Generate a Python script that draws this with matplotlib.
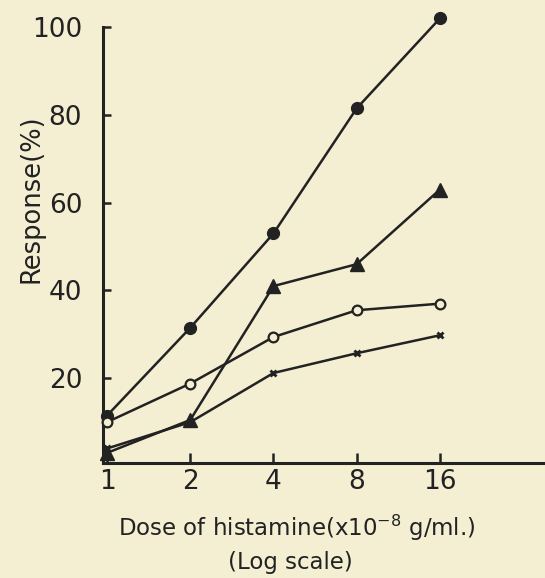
import matplotlib.pyplot as plt

# doses (x10^-8 g/ml), log2 axis
doses = [1, 2, 4, 8, 16]
filled_circles = [11.5, 31.5, 53.0, 81.5, 102.0]
filled_triangles = [3.0, 10.5, 41.0, 46.0, 63.0]
open_circles = [10.0, 18.8, 29.4, 35.5, 37.0]
crosses = [4.0, 10.0, 21.2, 25.7, 29.8]

ticks_x = [1, 2, 4, 8, 16]
ticks_y = [20, 40, 60, 80, 100]

bg = "#f4efd3"
ink = "#222222"

fig = plt.figure(figsize=(5.45, 5.78), dpi=100, facecolor=bg)
ax = fig.add_axes([0.189, 0.199, 0.811, 0.754], facecolor=bg)
ax.set_xscale("log", base=2)
ax.set_xlim(0.967, 38.4)
ax.set_ylim(0.7, 100)

line_kw = dict(color=ink, lw=1.8, clip_on=False, zorder=3)
ax.plot(doses, filled_circles, marker="o", ms=8.5, mfc=ink, mec=ink, **line_kw)
ax.plot(doses, filled_triangles, marker="^", ms=10, mfc=ink, mec=ink, **line_kw)
ax.plot(doses, open_circles, marker="o", ms=7, mfc=bg, mec=ink, mew=1.6, **line_kw)
ax.plot(doses, crosses, marker="x", ms=5, mec=ink, mew=2, **line_kw)

for s in ["top", "right"]:
    ax.spines[s].set_visible(False)
for s in ["left", "bottom"]:
    ax.spines[s].set_linewidth(2.2)
    ax.spines[s].set_color(ink)

ax.set_xticks(ticks_x)
ax.set_xticklabels([str(t) for t in ticks_x])
ax.minorticks_off()
ax.set_yticks(ticks_y)
ax.tick_params(axis="x", direction="in", length=7, width=1.8, color=ink,
               labelsize=19, labelcolor=ink, pad=4)
ax.tick_params(axis="y", direction="in", length=6, width=1.8, color=ink,
               labelsize=19, labelcolor=ink, pad=15)

fig.text(0.057, 0.657, "Response(%)", rotation=90, ha="center", va="center",
         fontsize=18.5, color=ink)
fig.text(0.545, 0.087, "Dose of histamine(x10$^{-8}$ g/ml.)", ha="center",
         va="center", fontsize=16.5, color=ink)
fig.text(0.533, 0.026, "(Log scale)", ha="center", va="center",
         fontsize=16.5, color=ink)

fig.savefig("out.png", dpi=100, facecolor=bg)
